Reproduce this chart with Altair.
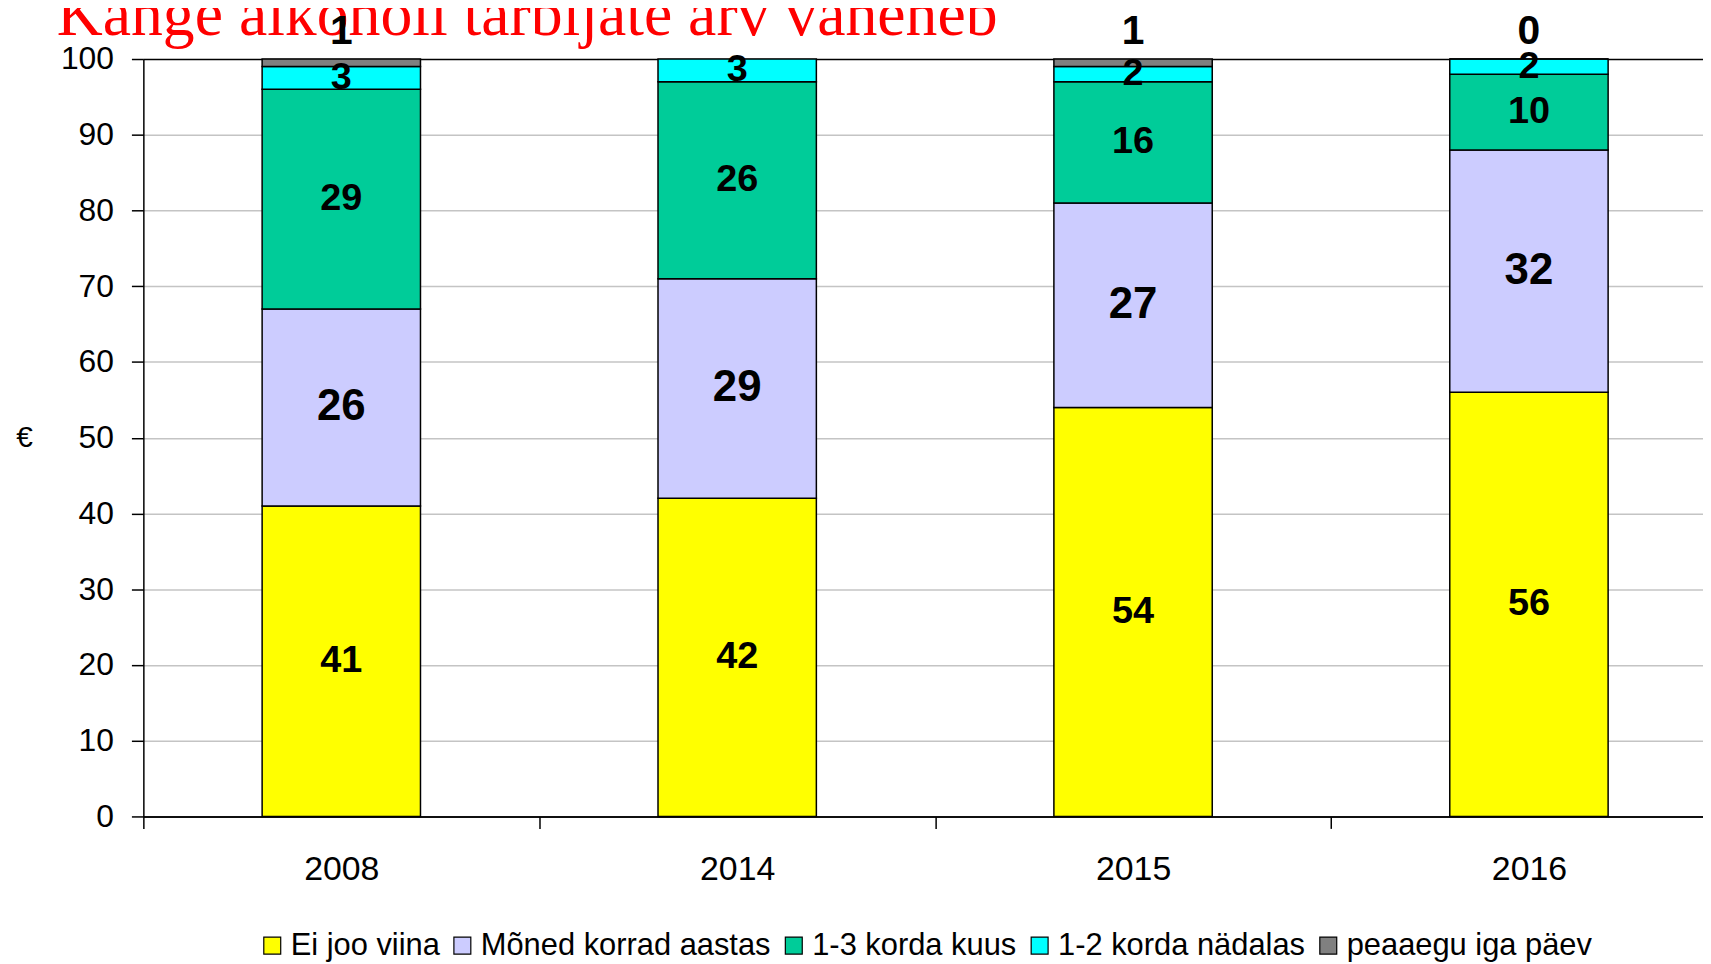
import altair as alt
import pandas as pd

TITLE = "Kange alkoholi tarbijate arv väheneb"
years = ["2008", "2014", "2015", "2016"]
categories = ["Ei joo viina", "Mõned korrad aastas", "1-3 korda kuus",
              "1-2 korda nädalas", "peaaegu iga päev"]
colors = ["#FFFF00", "#CCCCFF", "#00CC99", "#00FFFF", "#808080"]

ei_joo = [41, 42, 54, 56]
moned_korrad = [26, 29, 27, 32]
korda_kuus = [29, 26, 16, 10]
korda_nadalas = [3, 3, 2, 2]
iga_paev = [1, None, 1, 0]

series = [ei_joo, moned_korrad, korda_kuus, korda_nadalas, iga_paev]

rows = []
for yi, yr in enumerate(years):
    base = 0
    for ci, cat in enumerate(categories):
        v = series[ci][yi]
        if v is None:
            continue
        rows.append({"year": yr, "cat": cat, "order": ci, "v": v,
                     "y0": base, "y1": base + v, "mid": base + v / 2})
        base += v
df = pd.DataFrame(rows)

FONT = "Liberation Sans"
XSCALE = alt.Scale(range=[0, 1591], paddingInner=0, paddingOuter=0)

x_enc = alt.X("year:N", sort=years, scale=XSCALE,
              axis=alt.Axis(title=None, labelAngle=0, tickBand="extent",
                            labelFontSize=34, labelPadding=24, grid=False))

y_axis = alt.Axis(values=list(range(0, 101, 10)), title="€", titleAngle=0,
                  titleX=-120, titleY=380, titleAlign="center",
                  titleBaseline="middle", titleFontSize=30,
                  titleFontWeight="normal", titleFont=FONT,
                  labelFontSize=32, labelPadding=18,
                  gridColor={"condition": {"test": "datum.value === 0 || datum.value === 100",
                                           "value": "black"},
                             "value": "#c4c4c4"},
                  gridWidth=1.5)

base = alt.Chart(df)

bars = base.mark_bar(stroke="black", strokeWidth=1.5,
                     width=alt.RelativeBandSize(0.4)).encode(
    x=x_enc,
    y=alt.Y("y0:Q", scale=alt.Scale(domain=[0, 100]), axis=y_axis),
    y2="y1:Q",
    color=alt.Color("cat:N", scale=alt.Scale(domain=categories, range=colors),
                    legend=alt.Legend(title=None, orient="none", legendX=114,
                                      legendY=875, direction="horizontal",
                                      symbolType="square", symbolSize=289,
                                      symbolStrokeColor="black",
                                      symbolStrokeWidth=1.2,
                                      labelFontSize=31, labelFont=FONT,
                                      labelColor="black", labelLimit=500,
                                      labelOffset=3, columnPadding=7,
                                      padding=0)),
    order="order:Q",
)

lbl_common = dict(font=FONT, fontWeight="bold", color="black",
                  align="center", baseline="middle")

labels_small = base.transform_filter(
    "datum.order == 0 || datum.order == 2 || datum.order == 3"
).mark_text(fontSize=38, **lbl_common).encode(
    x=alt.X("year:N", sort=years), y=alt.Y("mid:Q"), text="v:Q")

labels_big = base.transform_filter("datum.order == 1").mark_text(
    fontSize=44, **lbl_common).encode(
    x=alt.X("year:N", sort=years), y=alt.Y("mid:Q"), text="v:Q")

labels_top = base.transform_filter("datum.order == 4").mark_text(
    fontSize=41, dy=-27, **lbl_common).encode(
    x=alt.X("year:N", sort=years), y=alt.Y("y1:Q"), text="v:Q")

title = alt.Chart(alt.Data(values=[{"t": TITLE}])).mark_text(
    align="left", baseline="alphabetic", font="Liberation Serif",
    fontSize=64, color="red").encode(
    x=alt.value(-87), y=alt.value(-24), text="t:N")

chart = alt.layer(bars, title, labels_small, labels_big, labels_top).properties(
    width=1567, height=761,
    autosize=alt.AutoSizeParams(type="none"),
    padding={"left": 136, "top": 49, "right": 0, "bottom": 146},
).configure_view(strokeOpacity=0).configure_axis(
    domainColor="black", domainWidth=1.5, tickColor="black", tickWidth=1.5,
    tickSize=12, labelFont=FONT, labelColor="black",
).configure_axisX(labelFont=FONT)

chart.save("out.html", embed_options={"renderer": "svg", "actions": False})
